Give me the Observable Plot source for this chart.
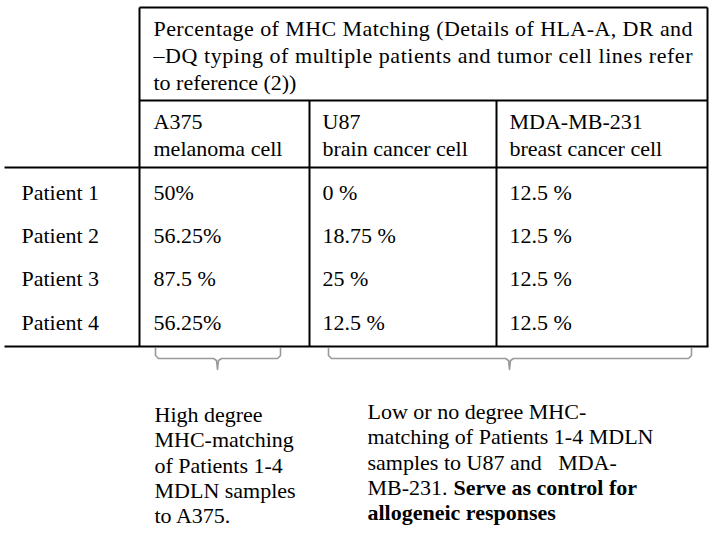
<!DOCTYPE html>
<html>
<head>
<meta charset="utf-8">
<script src="https://cdn.jsdelivr.net/npm/d3@7"></script>
<script src="https://cdn.jsdelivr.net/npm/@observablehq/plot@0.6"></script>
<style>
  html, body { margin: 0; padding: 0; background: #fff; }
  svg, svg text { font-family: "Liberation Serif", "Times New Roman", "DejaVu Serif", serif !important; }
</style>
</head>
<body>
<div id="chart"></div>
<script>
// ---------- DATA ----------
const headerLines = [
  "Percentage of MHC Matching (Details of HLA-A, DR and",
  "–DQ typing of multiple patients and tumor cell lines refer",
  "to reference (2))"
];
const cellLines = ["A375", "U87", "MDA-MB-231"];
const cellTypes = ["melanoma cell", "brain cancer cell", "breast cancer cell"];
const patients = ["Patient 1", "Patient 2", "Patient 3", "Patient 4"];
const matchA375 = ["50%", "56.25%", "87.5 %", "56.25%"];
const matchU87 = ["0 %", "18.75 %", "25 %", "12.5 %"];
const matchMDA = ["12.5 %", "12.5 %", "12.5 %", "12.5 %"];
const noteHigh = ["High degree", "MHC-matching", "of Patients 1-4", "MDLN samples", "to A375."];
const noteLow = ["Low or no degree MHC-", "matching of Patients 1-4 MDLN", "samples to U87 and\u00a0\u00a0\u00a0MDA-", "MB-231."];
const noteLowBold = [{line: 3, text: "Serve as control for"}, {line: 4, text: "allogeneic responses"}];

// ---------- LAYOUT ----------
const W = 714, H = 533;
const FONT = '"Liberation Serif", "Times New Roman", "DejaVu Serif", serif';
const FS = 22;
const colEdges = [4, 139, 309, 496, 707];
const colTextX = [153, 322, 509];
const rowLabelX = 21;
const yTop = 7, ySplit = 100, yBody = 167, yBottom = 346;
const headerBase = [35, 62, 89];
const colHeadBase = [128, 155];
const rowBase = [199, 242, 285, 329];
const justifyRight = 692;
const noteHighX = 154, noteLowX = 367, noteBoldX = 453;
const noteHighBase = [421, 446, 472, 497, 522];
const noteLowBase = [418, 443, 469, 494, 519];
const brackets = [{x1: 155, x2: 280, cx: 217}, {x1: 328, x2: 691, cx: 509}];
const brTop = 348, brMid = 358, brTip = 369;

// ---------- BUILD ----------
const segments = [
  {x1: colEdges[1], y1: yTop, x2: colEdges[4], y2: yTop},
  {x1: colEdges[1], y1: ySplit, x2: colEdges[4], y2: ySplit},
  {x1: colEdges[0], y1: yBody, x2: colEdges[4], y2: yBody},
  {x1: colEdges[0], y1: yBottom, x2: colEdges[4] + 1, y2: yBottom},
  {x1: colEdges[1], y1: yTop, x2: colEdges[1], y2: yBottom},
  {x1: colEdges[2], y1: ySplit, x2: colEdges[2], y2: yBottom},
  {x1: colEdges[3], y1: ySplit, x2: colEdges[3], y2: yBottom},
  {x1: colEdges[4], y1: yTop, x2: colEdges[4], y2: yBottom}
];

const texts = [];
headerLines.forEach((t, i) => texts.push({x: colTextX[0], y: headerBase[i], t, w: "normal"}));
cellLines.forEach((t, i) => {
  texts.push({x: colTextX[i], y: colHeadBase[0], t, w: "normal"});
  texts.push({x: colTextX[i], y: colHeadBase[1], t: cellTypes[i], w: "normal"});
});
patients.forEach((p, i) => {
  texts.push({x: rowLabelX, y: rowBase[i], t: p, w: "normal"});
  [matchA375, matchU87, matchMDA].forEach((col, j) =>
    texts.push({x: colTextX[j], y: rowBase[i], t: col[i], w: "normal"}));
});
noteHigh.forEach((t, i) => texts.push({x: noteHighX, y: noteHighBase[i], t, w: "normal"}));
noteLow.forEach((t, i) => texts.push({x: noteLowX, y: noteLowBase[i], t, w: "normal"}));
noteLowBold.forEach(d => texts.push({x: d.line === 3 ? noteBoldX : noteLowX, y: noteLowBase[d.line], t: d.text, w: "bold"}));

const bracketPts = [];
brackets.forEach((b, k) => {
  const pts = [
    [b.x1, brTop], [b.x1, brMid - 3], [b.x1 + 3, brMid],
    [b.cx - 4, brMid], [b.cx - 1, brMid + 2], [b.cx, brTip],
    [b.cx + 1, brMid + 2], [b.cx + 4, brMid],
    [b.x2 - 3, brMid], [b.x2, brMid - 3], [b.x2, brTop]
  ];
  pts.forEach(([x, y]) => bracketPts.push({x, y, k}));
});

const plot = Plot.plot({
  width: W, height: H,
  margin: 0,
  x: {domain: [0, W], range: [0, W], axis: null},
  y: {domain: [0, H], range: [0, H], axis: null},
  style: {fontFamily: FONT, background: "#fff"},
  marks: [
    Plot.line(bracketPts, {x: "x", y: "y", z: "k", stroke: "#9a9a9a", strokeWidth: 1.6, curve: "linear"}),
    Plot.link(segments, {x1: "x1", y1: "y1", x2: "x2", y2: "y2", stroke: "#000", strokeWidth: 2}),
    Plot.text(texts.filter(d => d.w === "normal"), {x: "x", y: "y", text: "t", textAnchor: "start", lineAnchor: "bottom", fontSize: FS, fontFamily: FONT, fill: "#000"}),
    Plot.text(texts.filter(d => d.w === "bold"), {x: "x", y: "y", text: "t", textAnchor: "start", lineAnchor: "bottom", fontSize: FS, fontFamily: FONT, fontWeight: "bold", fill: "#000"})
  ]
});

// justify the first two header lines
d3.select(plot).selectAll("text").each(function() {
  const s = this.textContent;
  if (s === headerLines[0] || s === headerLines[1]) {
    const len = justifyRight - colTextX[0];
    this.setAttribute("textLength", len);
    this.setAttribute("lengthAdjust", "spacing");
  }
});

document.getElementById("chart").appendChild(plot);
</script>
</body>
</html>
